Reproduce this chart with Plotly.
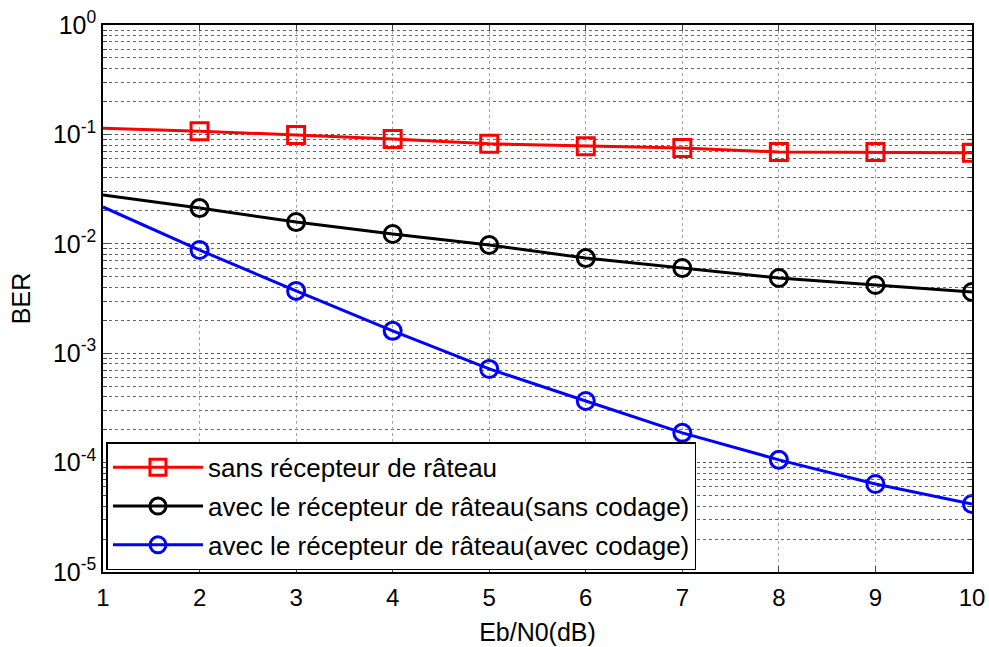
import plotly.graph_objects as go

# Eb/N0 axis (dB)
ebn0 = [1, 2, 3, 4, 5, 6, 7, 8, 9, 10]

# Bit error rates
ber_sans_rake = [0.114, 0.107, 0.099, 0.091, 0.082, 0.078, 0.075, 0.069, 0.069, 0.068]
ber_rake_sans_codage = [0.0279, 0.0212, 0.0158, 0.0123, 0.00975, 0.0074, 0.0060, 0.00487, 0.0042, 0.00363]
ber_rake_avec_codage = [0.0217, 0.00877, 0.00371, 0.0016, 0.000718, 0.000366, 0.000187, 0.000106, 6.37e-5, 4.18e-5]

names = [
    "sans récepteur de râteau",
    "avec le récepteur de râteau(sans codage)",
    "avec le récepteur de râteau(avec codage)",
]
colors = ["#ff0000", "#000000", "#0000ff"]
symbols = ["square-open", "circle-open", "circle-open"]
series = [ber_sans_rake, ber_rake_sans_codage, ber_rake_avec_codage]

# y tick labels
decades = [1, 1e-1, 1e-2, 1e-3, 1e-4, 1e-5]
decade_labels = ["10<sup>0</sup>", "10<sup>-1</sup>", "10<sup>-2</sup>",
                 "10<sup>-3</sup>", "10<sup>-4</sup>", "10<sup>-5</sup>"]
minor_vals = [m * 10.0 ** e for e in range(-5, 0) for m in range(2, 10)]

FONT = "Liberation Sans, Arial, sans-serif"

fig = go.Figure()
for i, (name, col, sym, ys) in enumerate(zip(names, colors, symbols, series)):
    grp = f"g{i}"
    # lead-in segment from the axis edge (no marker)
    fig.add_trace(go.Scatter(
        x=ebn0[:2], y=ys[:2], mode="lines", showlegend=False, legendgroup=grp,
        line=dict(color=col, width=3), hoverinfo="skip"))
    fig.add_trace(go.Scatter(
        x=ebn0[1:], y=ys[1:], mode="lines+markers", name=name, legendgroup=grp,
        line=dict(color=col, width=3),
        marker=dict(symbol=sym, size=17,
                    color=col, line=dict(color=col, width=3))))

fig.update_layout(
    width=989, height=647,
    margin=dict(l=103, r=17, t=25, b=75),
    paper_bgcolor="white", plot_bgcolor="white",
    font=dict(family=FONT, size=24, color="black"),
    legend=dict(
        x=0.004, y=0.003, xanchor="left", yanchor="bottom",
        bgcolor="white", bordercolor="black", borderwidth=1.5,
        font=dict(family=FONT, size=26, color="black"),
        tracegroupgap=2, itemwidth=90,
    ),
    xaxis=dict(
        range=[1, 10], tickvals=ebn0, ticks="inside", ticklen=6,
        showline=True, linecolor="black", linewidth=1.5, mirror="ticks",
        showgrid=True, gridcolor="#a8a8a8", griddash="dot", gridwidth=1,
        zeroline=False, ticklabelstandoff=3, automargin=False,
        title=dict(text="Eb/N0(dB)", font=dict(size=25), standoff=14),
        tickfont=dict(size=24),
    ),
    yaxis=dict(
        type="log", range=[-5, 0], tickvals=decades, ticktext=decade_labels,
        ticks="inside", ticklen=6, automargin=False,
        showline=True, linecolor="black", linewidth=1.5, mirror="ticks",
        showgrid=True, gridcolor="#555555", griddash="dot", gridwidth=1,
        zeroline=False,
        minor=dict(tickvals=minor_vals, ticks="inside", ticklen=4,
                   showgrid=True, gridcolor="#666666", griddash="dot", gridwidth=1),
        title=dict(text="BER", font=dict(size=25), standoff=15),
        tickfont=dict(size=25),
    ),
)

fig.write_html("out.html")
